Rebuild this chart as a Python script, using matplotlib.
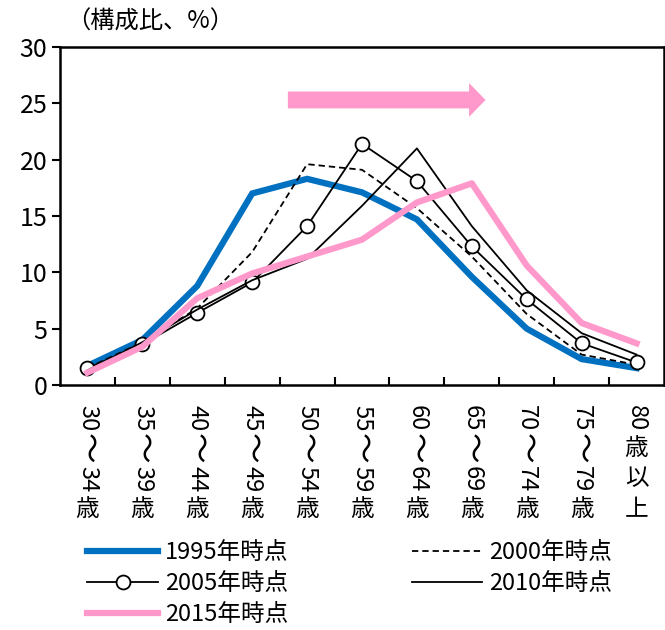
import matplotlib
matplotlib.use("Agg")
import matplotlib.pyplot as plt
from matplotlib.patches import FancyArrow
from matplotlib.transforms import IdentityTransform

plt.rcParams['font.family'] = ['Noto Sans CJK JP', 'DejaVu Sans']

# age groups (x axis)
age_labels = ["30～34歳", "35～39歳", "40～44歳", "45～49歳", "50～54歳", "55～59歳",
              "60～64歳", "65～69歳", "70～74歳", "75～79歳", "80歳以上"]

# composition ratio (%)
y1995 = [1.7, 4.0, 8.8, 17.0, 18.3, 17.1, 14.7, 9.6, 5.0, 2.3, 1.5]
y2000 = [1.5, 3.8, 6.8, 11.8, 19.6, 19.1, 15.7, 11.4, 6.3, 2.7, 1.8]
y2005 = [1.5, 3.6, 6.4, 9.1, 14.1, 21.4, 18.1, 12.3, 7.6, 3.7, 2.0]
y2010 = [1.3, 3.8, 6.7, 9.3, 11.2, 15.9, 21.0, 14.1, 8.4, 4.6, 2.7]
y2015 = [1.1, 3.4, 7.7, 9.9, 11.4, 12.9, 16.2, 17.9, 10.6, 5.5, 3.7]

BLUE = "#0070C0"
PINK = "#FF99CC"

fig = plt.figure(figsize=(6.65, 6.3), dpi=100)
ax = fig.add_axes([60/665, 1 - 385/630, 604/665, 338/630])

x = list(range(len(age_labels)))
l95, = ax.plot(x, y1995, color=BLUE, lw=4.5, solid_joinstyle='miter', label="1995年時点")
l00, = ax.plot(x, y2000, color="black", lw=1.3, ls=(0, (3.5, 2.2)), label="2000年時点")
l05, = ax.plot(x, y2005, color="black", lw=1.3, marker='o', ms=10, mfc='white',
               mec='black', mew=1.3, label="2005年時点")
l10, = ax.plot(x, y2010, color="black", lw=1.3, label="2010年時点")
l15, = ax.plot(x, y2015, color=PINK, lw=4.5, label="2015年時点")

# shift arrow
ax.add_patch(FancyArrow(3.65, 25.3, 3.6, 0, width=1.5, head_width=3.0, head_length=0.3,
                        length_includes_head=True, color=PINK, lw=0, zorder=5))

ax.set_xlim(-0.5, 10.5)
ax.set_ylim(0, 30)
ax.set_yticks(range(0, 31, 5))
ax.tick_params(axis='y', direction='out', length=6, width=1.5, labelsize=18, pad=3)
ax.set_xticks([i + 0.5 for i in range(10)])
ax.set_xticklabels([])
ax.tick_params(axis='x', direction='in', length=6, width=1.5)
for s in ax.spines.values():
    s.set_linewidth(1.8)

fig.text(66/665, 1 - 22/630, "（構成比、%）", fontsize=17.5, va='center', ha='left')

# vertical (tategaki) x labels: digit pairs and ～ rotated, kanji upright, one slot each
H = 630
first_slot = H - 418
pitch = 30.5


def units(s):
    out = []
    for ch in s:
        if ch.isdigit() and out and out[-1].isdigit():
            out[-1] += ch
        else:
            out.append(ch)
    return out


for i, lab in enumerate(age_labels):
    xp = ax.transData.transform((i, 0))[0]
    for k, u in enumerate(units(lab)):
        up = u in "歳以上"
        fs = 17
        if u == "～":
            u, fs = "〜", 22
        fig.text(xp, first_slot - k * pitch, u, transform=IdentityTransform(), fontsize=fs,
                 rotation=0 if up else -90, ha='center', va='center')

handles = [l95, l05, l15, l00, l10]
leg = fig.legend(handles, [h.get_label() for h in handles], ncol=2,
                 loc='upper left', bbox_to_anchor=(78/665, 1 - 532/630),
                 frameon=False, fontsize=17, handlelength=3.0, handletextpad=0.3,
                 columnspacing=5.2, labelspacing=0.33, borderaxespad=0)

fig.savefig("out.png", dpi=100)
